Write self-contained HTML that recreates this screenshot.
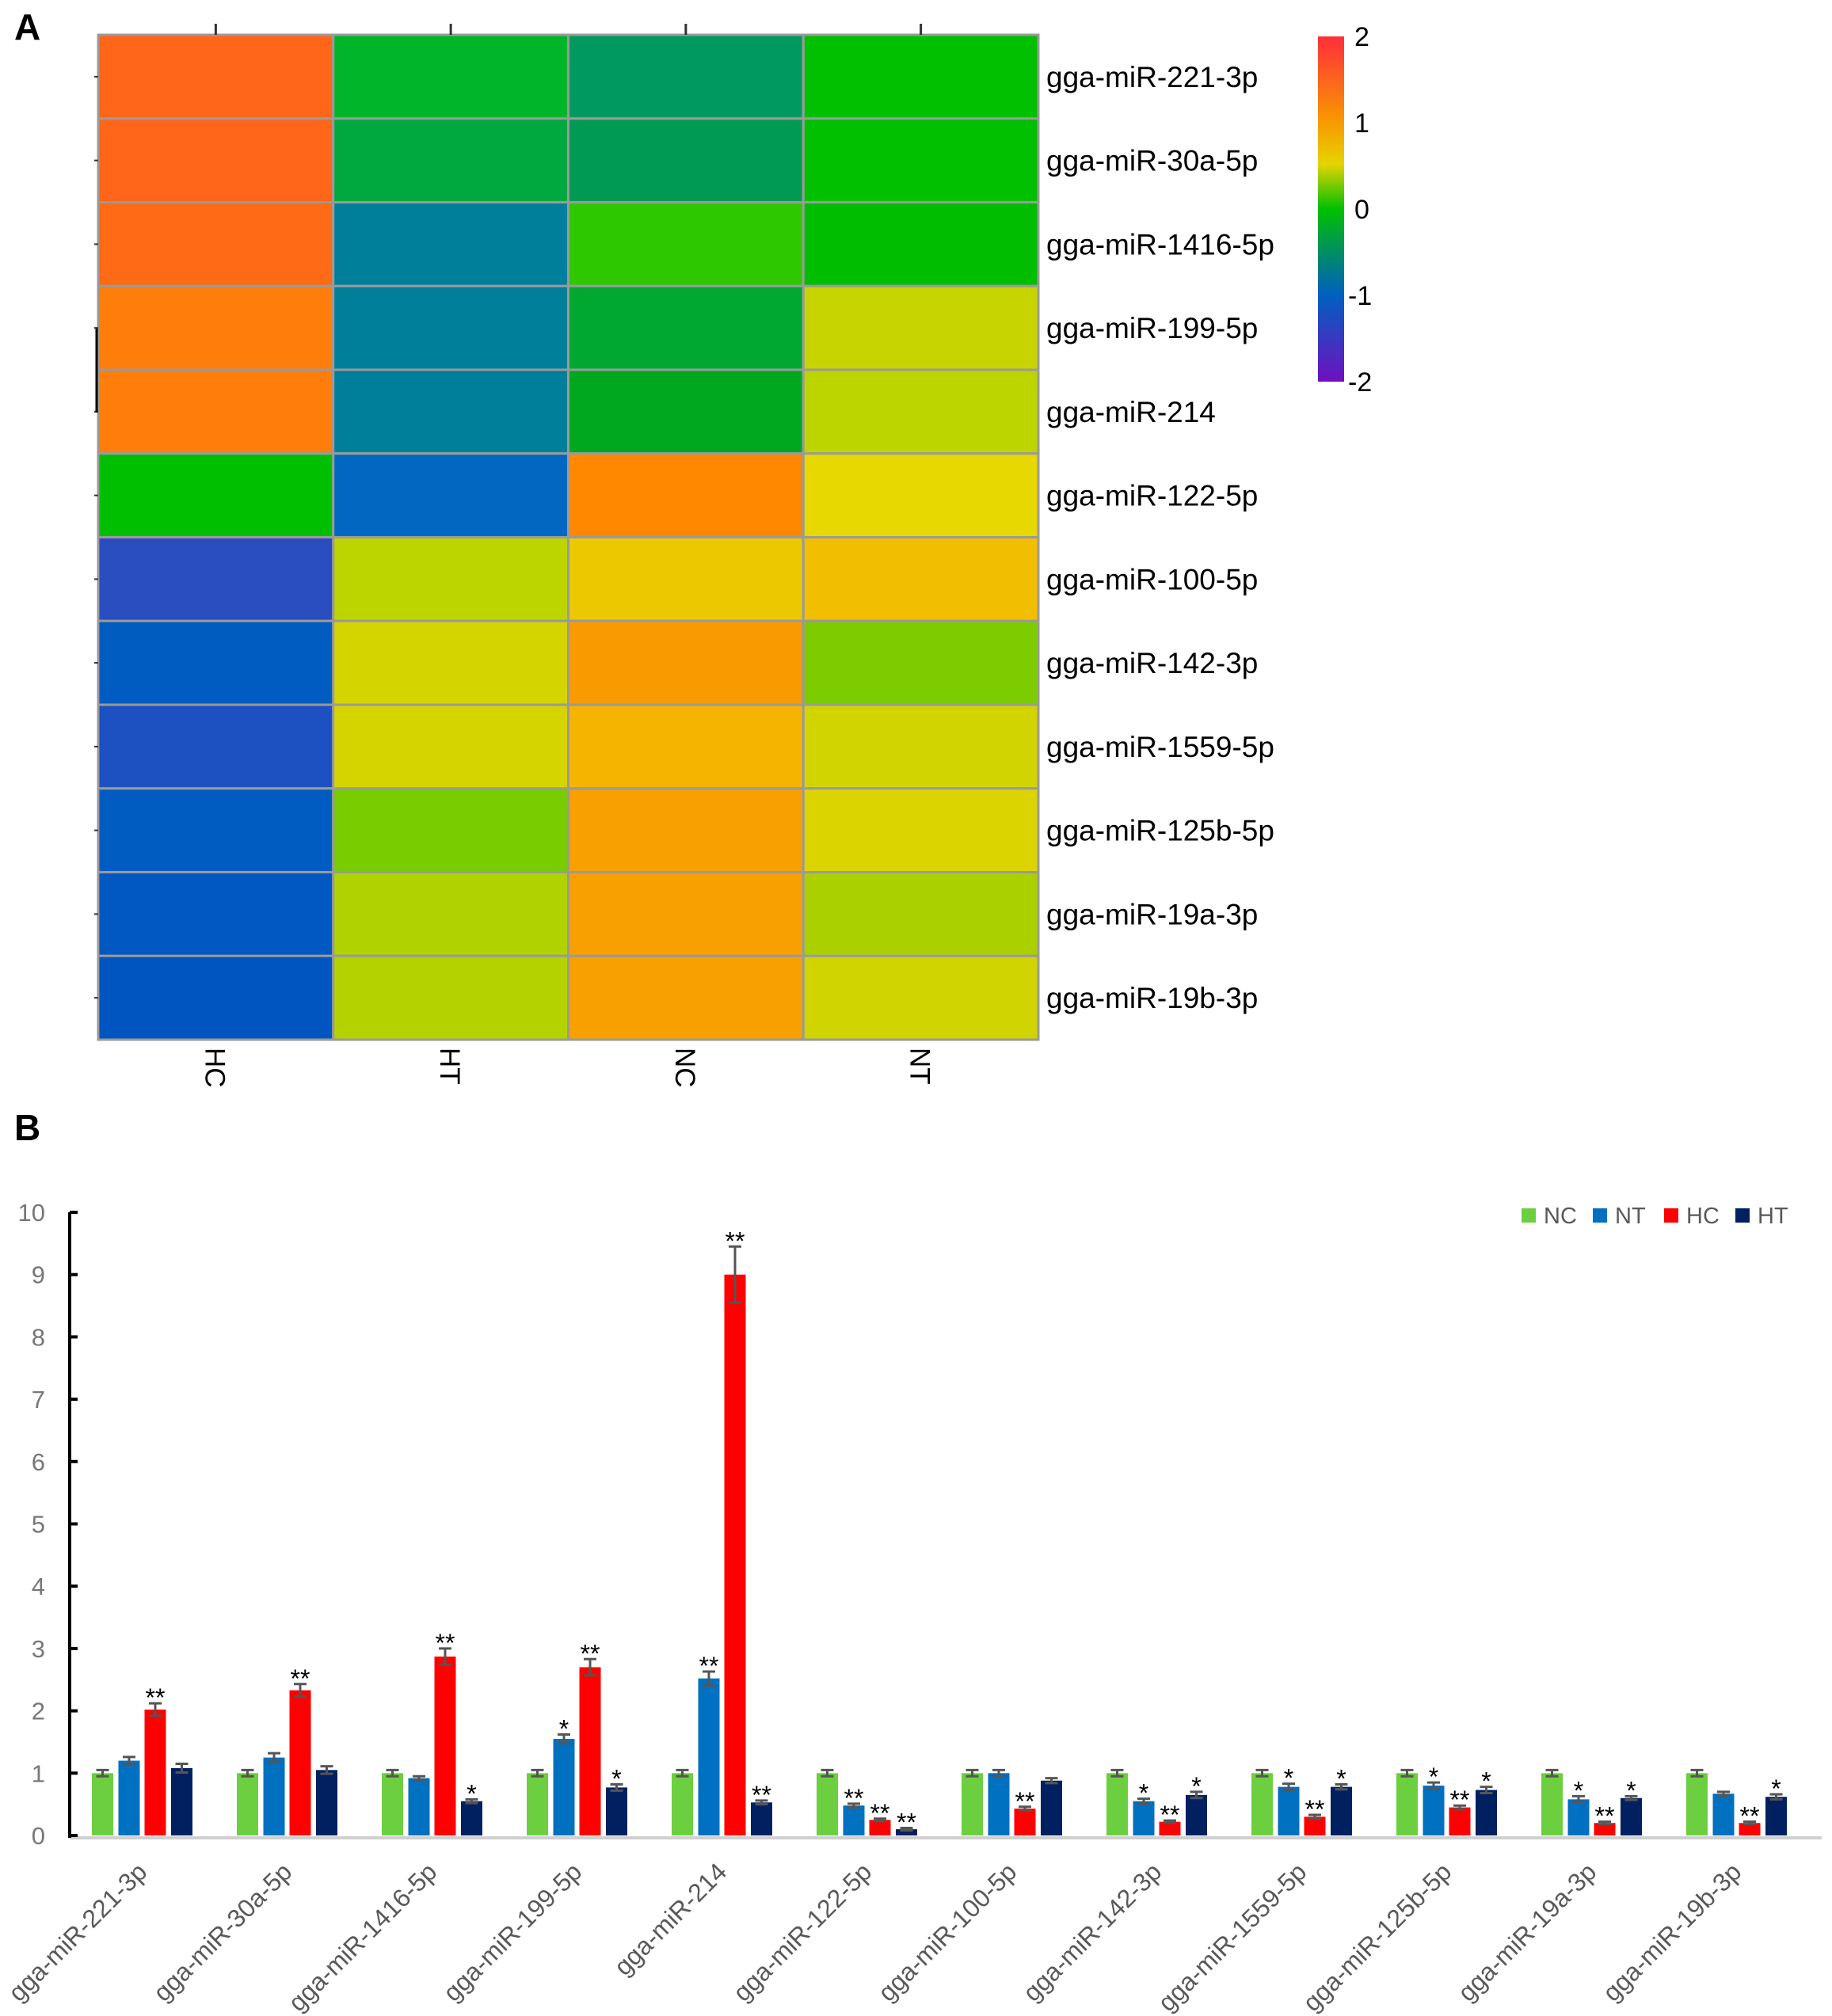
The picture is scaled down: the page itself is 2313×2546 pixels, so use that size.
<!DOCTYPE html>
<html><head><meta charset="utf-8"><style>body{margin:0;background:#fff}svg{display:block}</style></head>
<body>
<svg id="s" width="2313" height="2546" xmlns="http://www.w3.org/2000/svg" font-family="Liberation Sans, sans-serif">
<defs><linearGradient id="cb" x1="0" y1="0" x2="0" y2="1">
<stop offset="0" stop-color="#ff2e3a"/><stop offset="0.25" stop-color="#f89a00"/><stop offset="0.37" stop-color="#e4d400"/><stop offset="0.5" stop-color="#00c000"/><stop offset="0.62" stop-color="#009060"/><stop offset="0.75" stop-color="#0060c0"/><stop offset="1" stop-color="#7010c0"/></linearGradient></defs>
<text x="18" y="50" font-size="46" font-weight="bold">A</text>
<g id="hm"></g>
<rect x="1664" y="46" width="33" height="436" fill="url(#cb)"/>
<g font-size="34" fill="#000">
<text x="1710" y="58">2</text><text x="1710" y="167">1</text><text x="1710" y="276">0</text><text x="1702" y="385">-1</text><text x="1702" y="494">-2</text></g>
<text x="18" y="1440" font-size="46" font-weight="bold">B</text>
<g id="bar"></g>
</svg>
<script>
const NS="http://www.w3.org/2000/svg";
function el(p,t,a,txt){const e=document.createElementNS(NS,t);for(const k in a)e.setAttribute(k,a[k]);if(txt!=null)e.textContent=txt;p.appendChild(e);return e;}
const hm=document.getElementById('hm');
const C=[["#ff661a","#00b52a","#009a60","#00c000"],["#ff661a","#00a840","#009a55","#00c000"],["#ff6a15","#007f9a","#2ec800","#00bd00"],["#ff7d0a","#007f9a","#00a830","#c8d400"],["#ff7d0a","#007f9a","#00a820","#bcd400"],["#00bf00","#0068c0","#ff8800","#e6d800"],["#2a4dc0","#bcd400","#ecc800","#f2be00"],["#005cc0","#d4d400","#f99a00","#7ccc00"],["#1d50c0","#d6d400","#f5b400","#d2d400"],["#005cc0","#78cc00","#f7a000","#dcd400"],["#0058c0","#afd200","#f7a000","#aad000"],["#0055c0","#b4d200","#f7a000","#d0d400"]];
const R=["gga-miR-221-3p","gga-miR-30a-5p","gga-miR-1416-5p","gga-miR-199-5p","gga-miR-214","gga-miR-122-5p","gga-miR-100-5p","gga-miR-142-3p","gga-miR-1559-5p","gga-miR-125b-5p","gga-miR-19a-3p","gga-miR-19b-3p"];
const X0=124,Y0=44,W=296.75,H=105.75;
for(let r=0;r<12;r++){for(let c=0;c<4;c++)el(hm,'rect',{x:X0+c*W,y:Y0+r*H,width:W,height:H,fill:C[r][c],stroke:'#9a9a9a','stroke-width':3});
el(hm,'text',{x:1321,y:Y0+r*H+H/2+13,'font-size':37},R[r]);
el(hm,'line',{x1:119,x2:124,y1:Y0+r*H+H/2,y2:Y0+r*H+H/2,stroke:'#333','stroke-width':2});}
el(hm,'line',{x1:122,x2:122,y1:415,y2:521,stroke:'#000','stroke-width':3});
["HC","HT","NC","NT"].forEach((t,c)=>{const cx=X0+c*W+W/2;
el(hm,'line',{x1:cx,x2:cx,y1:30,y2:44,stroke:'#333','stroke-width':3});
el(hm,'text',{x:0,y:0,'font-size':35,transform:`translate(${cx-13},1323) rotate(90)`},t);});
const b=document.getElementById('bar');
const y0=2318,u=78.7,ax=88;
el(b,'line',{x1:ax,x2:2300,y1:2321,y2:2321,stroke:'#d0d0d0','stroke-width':4});
el(b,'line',{x1:ax,x2:ax,y1:1531,y2:2321,stroke:'#000','stroke-width':4});
for(let i=0;i<=10;i++){const y=y0-i*u;el(b,'line',{x1:ax,x2:ax+10,y1:y,y2:y,stroke:'#000','stroke-width':4});
el(b,'text',{x:57,y:y+11,'font-size':31,fill:'#777','text-anchor':'end'},i);}
const V=[[1,1.2,2.02,1.08],[1,1.25,2.33,1.05],[1,0.92,2.87,0.55],[1,1.55,2.7,0.77],[1,2.52,9,0.53],[1,0.48,0.25,0.1],[1,1.0,0.43,0.88],[1,0.55,0.22,0.65],[1,0.78,0.3,0.78],[1,0.8,0.45,0.73],[1,0.58,0.2,0.6],[1,0.67,0.2,0.62]];
const E=[[.05,.06,.1,.07],[.05,.07,.1,.06],[.05,.03,.13,.03],[.05,.07,.13,.05],[.05,.11,.45,.03],[.05,.03,.02,.02],[.05,.05,.03,.04],[.05,.04,.02,.05],[.05,.05,.03,.04],[.05,.05,.03,.05],[.05,.05,.02,.03],[.05,.03,.02,.04]];
const S=[["","","**",""],["","","**",""],["","","**","*"],["","*","**","*"],["","**","**","**"],["","**","**","**"],["","","**",""],["","*","**","*"],["","*","**","*"],["","*","**","*"],["","*","**","*"],["","","**","*"]];
const COL=["#6ccf3f","#0070c0","#ff0000","#002060"],off=[-50,-16.5,16.5,50];
for(let g=0;g<12;g++){const gc=179.5+183*g;
for(let k=0;k<4;k++){const cx=gc+off[k],v=V[g][k],top=y0-v*u;
el(b,'rect',{x:cx-13.5,y:top,width:27,height:y0-top,fill:COL[k]});
const e=E[g][k]*u;el(b,'path',{d:`M${cx} ${top-e}V${top+e}M${cx-8} ${top-e}H${cx+8}M${cx-8} ${top+e}H${cx+8}`,stroke:'#555','stroke-width':3,fill:'none'});
if(S[g][k])el(b,'text',{x:cx,y:top-e+4,'font-size':32,'text-anchor':'middle'},S[g][k]);}
el(b,'text',{x:0,y:0,'font-size':32,fill:'#595959','text-anchor':'end',transform:`translate(${gc+8},2366) rotate(-45)`},R[g]);}
[["NC",1921],["NT",2011],["HC",2101],["HT",2191]].forEach((l,i)=>{el(b,'rect',{x:l[1],y:1526,width:18,height:18,fill:COL[i]});
el(b,'text',{x:l[1]+28,y:1545,'font-size':29,fill:'#595959'},l[0]);});
</script>
</body></html>
